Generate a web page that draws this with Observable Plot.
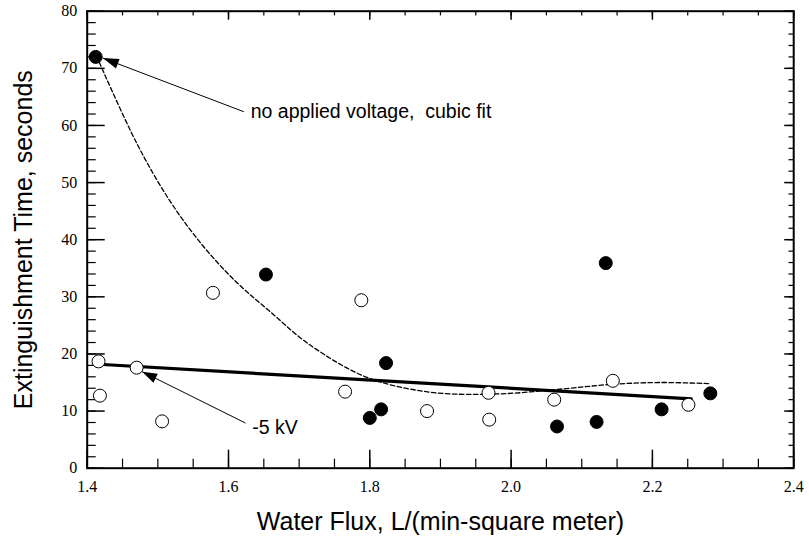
<!DOCTYPE html>
<html>
<head>
<meta charset="utf-8">
<script src="https://cdn.jsdelivr.net/npm/d3@7"></script>
<script src="https://cdn.jsdelivr.net/npm/@observablehq/plot@0.6"></script>
<style>
  html, body { margin: 0; padding: 0; background: #fff; }
  #chart svg { display: block; }
</style>
</head>
<body>
<div id="chart"></div>
<script>
// ---- data ----
const xTitle = "Water Flux, L/(min-square meter)";
const yTitle = "Extinguishment Time, seconds";
const xTickValues = [1.4, 1.6, 1.8, 2.0, 2.2, 2.4];
const yTickValues = [0, 10, 20, 30, 40, 50, 60, 70, 80];
const xMinorValues = d3.range(1.4, 2.4001, 0.05);
const yMinorValues = d3.range(0, 80.001, 2);

// no applied voltage (filled circles)
const filledX = [1.412, 1.653, 1.800, 1.816, 1.823, 2.065, 2.121, 2.134, 2.213, 2.282];
const filledY = [72.0, 33.9, 8.8, 10.3, 18.4, 7.3, 8.1, 35.9, 10.3, 13.1];
// -5 kV (open circles)
const openX = [1.416, 1.418, 1.470, 1.506, 1.578, 1.765, 1.788, 1.881, 1.968, 1.969, 2.061, 2.144, 2.251];
const openY = [18.7, 12.7, 17.6, 8.2, 30.7, 13.4, 29.4, 10.0, 13.2, 8.5, 12.0, 15.3, 11.1];

// cubic fit curve for no applied voltage
const cubicX = [1.413, 1.470, 1.517, 1.564, 1.611, 1.658, 1.715, 1.796, 1.886, 1.980, 2.075, 2.144, 2.212, 2.282];
const cubicY = [72.2, 56.9, 46.8, 38.9, 32.6, 27.5, 21.6, 15.9, 13.3, 13.0, 13.9, 14.7, 15.0, 14.8];
// linear fit for -5 kV
const linX = [1.416, 2.255];
const linY = [18.2, 12.15];

// annotations
const annText = ["no applied voltage,\u00A0 cubic fit", "-5 kV"];
const annX = [1.6314, 1.6335];
const annY = [62.4, 7.1];
const arrowTailX = [1.6217, 1.6241];
const arrowTailY = [62.4, 7.9];
const arrowTipX = [1.4221, 1.4778];
const arrowTipY = [71.8, 16.9];

// ---- layout ----
const W = 809, H = 541;
const mL = 86.7, mR = 15.8, mT = 10.7, mB = 73.3;
const plotW = W - mL - mR, plotH = H - mT - mB;
const xDomain = [1.4, 2.4], yDomain = [0, 80];

const filled = filledX.map((x, i) => ({x, y: filledY[i]}));
const open = openX.map((x, i) => ({x, y: openY[i]}));
const cubic = cubicX.map((x, i) => ({x, y: cubicY[i]}));
const lin = linX.map((x, i) => ({x, y: linY[i]}));
const ann = annText.map((t, i) => ({t, x: annX[i], y: annY[i]}));
const arrows = annText.map((t, i) => ({x1: arrowTailX[i], y1: arrowTailY[i], x2: arrowTipX[i], y2: arrowTipY[i]}));

// pixel mapping identical to the Plot scales, used for arrowhead orientation
const sx = d3.scaleLinear(xDomain, [mL, W - mR]);
const sy = d3.scaleLinear(yDomain, [H - mB, mT]);
function headSymbol(a, L, Wd) {
  const ang = Math.atan2(sy(a.y2) - sy(a.y1), sx(a.x2) - sx(a.x1));
  const c = Math.cos(ang), s = Math.sin(ang);
  return {
    draw(ctx) {
      const bx = -L * c, by = -L * s;
      const px = -s * Wd / 2, py = c * Wd / 2;
      ctx.moveTo(0, 0);
      ctx.lineTo(bx + px, by + py);
      ctx.lineTo(bx - px, by - py);
      ctx.closePath();
    }
  };
}

const sans = "'Liberation Sans', Arial, Helvetica, sans-serif";
const serif = "'Liberation Serif', 'Times New Roman', serif";

const plot = Plot.plot({
  width: W,
  height: H,
  marginLeft: mL, marginRight: mR, marginTop: mT, marginBottom: mB,
  x: {domain: xDomain},
  y: {domain: yDomain},
  style: {background: "white", color: "black"},
  marks: [
    // tick labels
    Plot.axisX({ticks: xTickValues, tickSize: 0, tickPadding: 12, tickFormat: d3.format(".1f"),
      fontSize: 16, fontFamily: serif, label: null}),
    Plot.axisY({ticks: yTickValues, tickSize: 0, tickPadding: 10, tickFormat: d3.format("d"),
      fontSize: 16, fontFamily: serif, label: null}),
    // inward ticks: bottom/left long, top/right short
    Plot.ruleX(xTickValues, {x: d => d, insetTop: plotH - 18, stroke: "black", strokeWidth: 1.5}),
    Plot.ruleX(xMinorValues, {x: d => d, insetTop: plotH - 9, stroke: "black", strokeWidth: 1.2}),
    Plot.ruleX(xTickValues, {x: d => d, insetBottom: plotH - 9, stroke: "black", strokeWidth: 1.5}),
    Plot.ruleX(xMinorValues, {x: d => d, insetBottom: plotH - 4.7, stroke: "black", strokeWidth: 1.2}),
    Plot.ruleY(yTickValues, {y: d => d, insetRight: plotW - 18, stroke: "black", strokeWidth: 1.5}),
    Plot.ruleY(yMinorValues, {y: d => d, insetRight: plotW - 9, stroke: "black", strokeWidth: 1.2}),
    Plot.ruleY(yTickValues, {y: d => d, insetLeft: plotW - 9, stroke: "black", strokeWidth: 1.5}),
    Plot.ruleY(yMinorValues, {y: d => d, insetLeft: plotW - 4.7, stroke: "black", strokeWidth: 1.2}),
    Plot.frame({stroke: "black", strokeWidth: 2}),
    // fits
    Plot.line(cubic, {x: "x", y: "y", curve: "catmull-rom", stroke: "black", strokeWidth: 1.3, strokeDasharray: "4.5,2.5"}),
    Plot.line(lin, {x: "x", y: "y", stroke: "black", strokeWidth: 3.2}),
    // arrows
    Plot.link(arrows, {x1: "x1", y1: "y1", x2: "x2", y2: "y2", stroke: "black", strokeWidth: 1}),
    Plot.dot([arrows[0]], {x: "x2", y: "y2", symbol: headSymbol(arrows[0], 16, 10), fill: "black", stroke: "none"}),
    Plot.dot([arrows[1]], {x: "x2", y: "y2", symbol: headSymbol(arrows[1], 15, 10), fill: "black", stroke: "none"}),
    // points
    Plot.dot(open, {x: "x", y: "y", r: 6.5, fill: "white", stroke: "black", strokeWidth: 1}),
    Plot.dot(filled, {x: "x", y: "y", r: 6.5, fill: "black", stroke: "black", strokeWidth: 1}),
    // annotation text
    Plot.text(ann, {x: "x", y: "y", text: "t", textAnchor: "start", lineAnchor: "middle",
      fontSize: 19.5, fontFamily: sans, fill: "black"}),
    // axis titles
    Plot.text([xTitle], {frameAnchor: "bottom", dy: 54, text: d => d, fontSize: 25, fontFamily: sans,
      textAnchor: "middle", lineAnchor: "middle", fill: "black"}),
    Plot.text([yTitle], {frameAnchor: "left", dx: -63.4, rotate: -90, text: d => d, fontSize: 25,
      fontFamily: sans, textAnchor: "middle", lineAnchor: "middle", fill: "black"})
  ]
});
document.getElementById("chart").appendChild(plot);
</script>
</body>
</html>
